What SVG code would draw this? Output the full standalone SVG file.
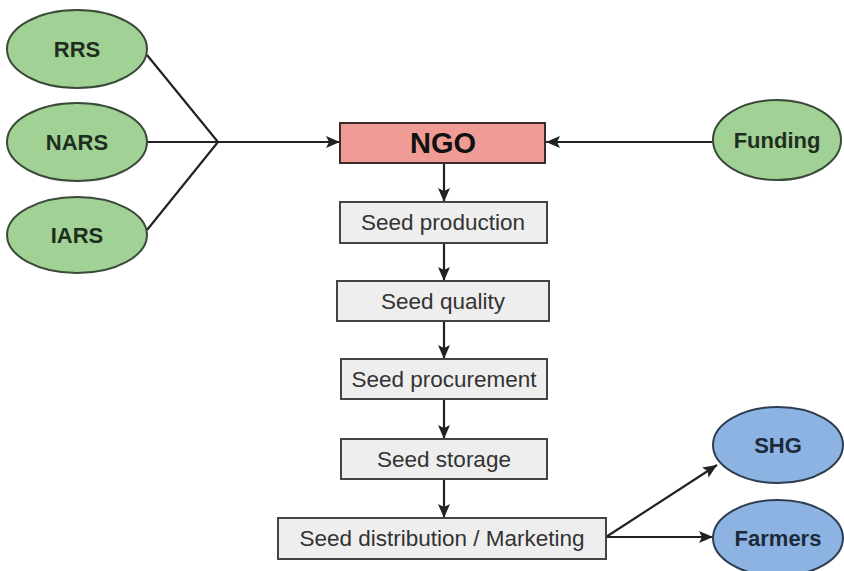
<svg xmlns="http://www.w3.org/2000/svg" width="844" height="571" viewBox="0 0 844 571">
<defs>
<style>
.green{fill:#a2d196;stroke:#3a4a38;stroke-width:2}
.blue{fill:#8db3e2;stroke:#2e3e52;stroke-width:2}
.box{fill:#eeeeee;stroke:#444;stroke-width:2}
.ngo{fill:#ef9c96;stroke:#3a2a2a;stroke-width:2}
.elab{font-family:"Liberation Sans",Arial,sans-serif;font-weight:bold;font-size:22px;fill:#1e2e1e;text-anchor:middle}
.blab{font-family:"Liberation Sans",Arial,sans-serif;font-weight:bold;font-size:22px;fill:#1c2a3a;text-anchor:middle}
.blbl{font-family:"Liberation Sans",Arial,sans-serif;font-size:22.5px;fill:#333;text-anchor:middle}
.line{fill:none;stroke:#222;stroke-width:2.2}
</style>
<marker id="arr" viewBox="0 0 14 12" refX="14" refY="6" markerWidth="14" markerHeight="12" markerUnits="userSpaceOnUse" orient="auto">
<path d="M0,0 L14,6 L0,12 L3,6 Z" fill="#222"/>
</marker>
</defs>
<rect width="844" height="571" fill="#ffffff"/>
<g id="connectors">
<polyline class="line" points="147,55 218,142 147,230"/>
<line class="line" x1="147" y1="142" x2="218" y2="142"/>
<line class="line" x1="218" y1="142" x2="340" y2="142" marker-end="url(#arr)"/>
<line class="line" x1="713" y1="142" x2="546" y2="142" marker-end="url(#arr)"/>
<line class="line" x1="444" y1="163" x2="444" y2="202" marker-end="url(#arr)"/>
<line class="line" x1="444" y1="243" x2="444" y2="281" marker-end="url(#arr)"/>
<line class="line" x1="444" y1="321" x2="444" y2="359" marker-end="url(#arr)"/>
<line class="line" x1="444" y1="399" x2="444" y2="439" marker-end="url(#arr)"/>
<line class="line" x1="444" y1="479" x2="444" y2="518" marker-end="url(#arr)"/>
<line class="line" x1="606" y1="537" x2="717" y2="465" marker-end="url(#arr)"/>
<line class="line" x1="606" y1="537" x2="713" y2="537" marker-end="url(#arr)"/>
</g>
<g id="rrs"><ellipse class="green" cx="77" cy="49" rx="70" ry="39"/><text class="elab" x="77" y="57">RRS</text></g>
<g id="nars"><ellipse class="green" cx="77" cy="142" rx="70" ry="39"/><text class="elab" x="77" y="150">NARS</text></g>
<g id="iars"><ellipse class="green" cx="77" cy="235" rx="70" ry="38"/><text class="elab" x="77" y="243">IARS</text></g>
<g id="funding"><ellipse class="green" cx="777" cy="140" rx="64" ry="40"/><text class="elab" x="777" y="148">Funding</text></g>
<g id="ngo"><rect class="ngo" x="340" y="123" width="205" height="40"/><text x="443" y="153" font-family="'Liberation Sans',Arial,sans-serif" font-weight="bold" font-size="29" fill="#111" text-anchor="middle">NGO</text></g>
<g id="seed-production"><rect class="box" x="340" y="202" width="207" height="41"/><text class="blbl" x="443" y="230">Seed production</text></g>
<g id="seed-quality"><rect class="box" x="337" y="281" width="212" height="40"/><text class="blbl" x="443" y="309">Seed quality</text></g>
<g id="seed-procurement"><rect class="box" x="341" y="359" width="206" height="40"/><text class="blbl" x="444" y="387">Seed procurement</text></g>
<g id="seed-storage"><rect class="box" x="341" y="439" width="206" height="40"/><text class="blbl" x="444" y="467">Seed storage</text></g>
<g id="seed-distribution"><rect class="box" x="278" y="518" width="328" height="41"/><text class="blbl" x="442" y="546">Seed distribution / Marketing</text></g>
<g id="shg"><ellipse class="blue" cx="778" cy="445" rx="65" ry="38"/><text class="blab" x="778" y="453">SHG</text></g>
<g id="farmers"><ellipse class="blue" cx="778" cy="538" rx="65" ry="38"/><text class="blab" x="778" y="546">Farmers</text></g>
</svg>
